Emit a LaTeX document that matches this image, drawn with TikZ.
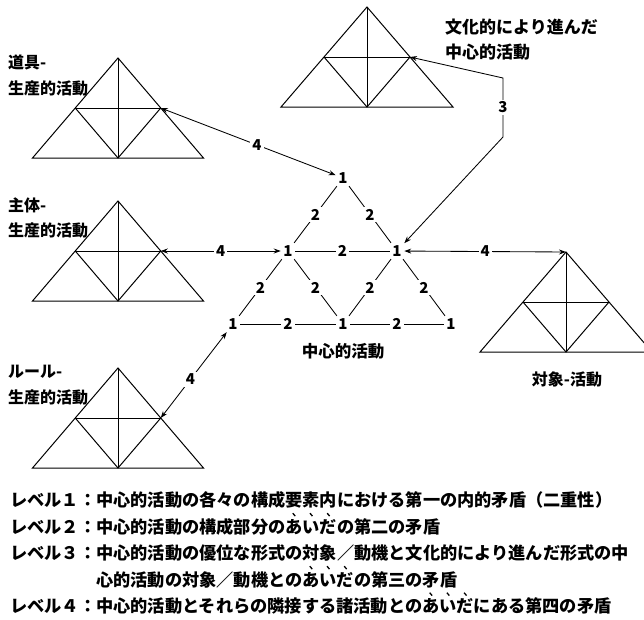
\documentclass[tikz,border=0pt]{standalone}
\usepackage{fontspec}
\setmainfont{Noto Sans CJK JP}
\usetikzlibrary{arrows.meta}
\newcommand\acttri[4]{%
  \coordinate (#1a) at (#2,#3);
  \coordinate (#1bl) at ({#2-#4},{#3+100});
  \coordinate (#1br) at ({#2+#4},{#3+100});
  \coordinate (#1bm) at (#2,{#3+100});
  \coordinate (#1ml) at ({#2-#4/2},{#3+50});
  \coordinate (#1mr) at ({#2+#4/2},{#3+50});
  \draw[triline] (#1a) -- (#1bl) -- (#1br) -- cycle;
  \draw[triline] (#1ml) -- (#1mr);
  \draw[triline] (#1ml) -- (#1bm) -- (#1mr);
  \draw[triline] (#1a) -- (#1bm);
}
\newcommand\bt[1]{\makebox[0pt][l]{\makebox[1em][c]{\raisebox{16.5pt}{\rotatebox{40}{\rule{1.3pt}{3.8pt}}}}}#1}
\begin{document}
\begin{tikzpicture}[x=1pt,y=-1pt,
  triline/.style={line width=1pt,line join=miter},
  edge/.style={line width=0.85pt},
  one/.style={inner sep=2.5pt,font=\bfseries\fontsize{15}{15}\selectfont},
  two/.style={fill=white,inner sep=2pt,font=\bfseries\fontsize{15}{15}\selectfont},
  arr/.style={line width=0.85pt,{Stealth[length=7pt,width=5pt]}-{Stealth[length=7pt,width=5pt]}},
  lbl/.style={inner sep=0pt,font=\bfseries\fontsize{16}{16}\selectfont},
  txt/.style={inner sep=0pt,anchor=base west,font=\bfseries\fontsize{17.2}{20}\selectfont}]
\useasboundingbox (0,0) rectangle (644,619);
\clip (0,0) rectangle (644,619);
\fill[white] (0,0) rectangle (644,619);

% triangles
\acttri{tt}{118}{58}{85.5}
\acttri{ts}{118}{201}{85.5}
\acttri{tr}{118}{368}{85.5}
\acttri{tc}{367}{7}{86}
\acttri{to}{566}{252}{86}

% lattice
\node[one] (T)  at (343,178) {1};
\node[one] (ML) at (288,251) {1};
\node[one] (MR) at (397,251) {1};
\node[one] (BL) at (233,324) {1};
\node[one] (BM) at (343,324) {1};
\node[one] (BR) at (451,324) {1};
\draw[edge] (T) -- node[two] {2} (ML);
\draw[edge] (T) -- node[two] {2} (MR);
\draw[edge] (ML) -- node[two] {2} (MR);
\draw[edge] (ML) -- node[two] {2} (BL);
\draw[edge] (ML) -- node[two] {2} (BM);
\draw[edge] (MR) -- node[two] {2} (BM);
\draw[edge] (MR) -- node[two] {2} (BR);
\draw[edge] (BL) -- node[two] {2} (BM);
\draw[edge] (BM) -- node[two] {2} (BR);

% arrows
\draw[arr] (ttmr) -- node[two,pos=0.55] {4} (T);
\draw[arr] (tsmr) -- node[two] {4} (ML);
\draw[arr] (trmr) -- node[two,pos=0.45] {4} (BL);
\draw[arr] (MR) -- node[two] {4} (toa);
\coordinate (c3a) at (503,78);
\coordinate (c3b) at (503,137);
\draw[arr] (tcmr) -- (c3a) -- node[two] {3} (c3b) -- (MR);

% labels
\node[lbl,anchor=west] (la1) at (8,62) {道具-};
\node[lbl,anchor=west] (la2) at (8,88) {生産的活動};
\node[lbl,anchor=west] (lb1) at (8,205) {主体-};
\node[lbl,anchor=west] (lb2) at (8,230) {生産的活動};
\node[lbl,anchor=west] (lc1) at (8,372) {ルール-};
\node[lbl,anchor=west] (lc2) at (8,397) {生産的活動};
\node[lbl,anchor=west,font=\bfseries\fontsize{17}{17}\selectfont] (ld1) at (445,27) {文化的により進んだ};
\node[lbl,anchor=west,font=\bfseries\fontsize{17}{17}\selectfont] (ld2) at (445,52) {中心的活動};
\node[lbl,font=\bfseries\fontsize{16.5}{16.5}\selectfont] (lcen) at (343,351) {中心的活動};
\node[lbl,font=\bfseries\fontsize{16}{16}\selectfont] (lobj) at (567,379) {対象-活動};

% legend
\node[txt] (L1) at (10,506.5) {レベル１：中心的活動の各々の構成要素内における第一の内的矛盾（二重性）};
\node[txt] (L2) at (10,533) {レベル２：中心的活動の構成部分の\bt{あ}\bt{い}\bt{だ}の第二の矛盾};
\node[txt] (L3) at (10,559.5) {レベル３：中心的活動の優位な形式の対象／動機と文化的により進んだ形式の中};
\node[txt] (L3b) at (96,586) {心的活動の対象／動機との\bt{あ}\bt{い}\bt{だ}の第三の矛盾};
\node[txt] (L4) at (10,612.5) {レベル４：中心的活動とそれらの隣接する諸活動との\bt{あ}\bt{い}\bt{だ}にある第四の矛盾};
\end{tikzpicture}
\end{document}
